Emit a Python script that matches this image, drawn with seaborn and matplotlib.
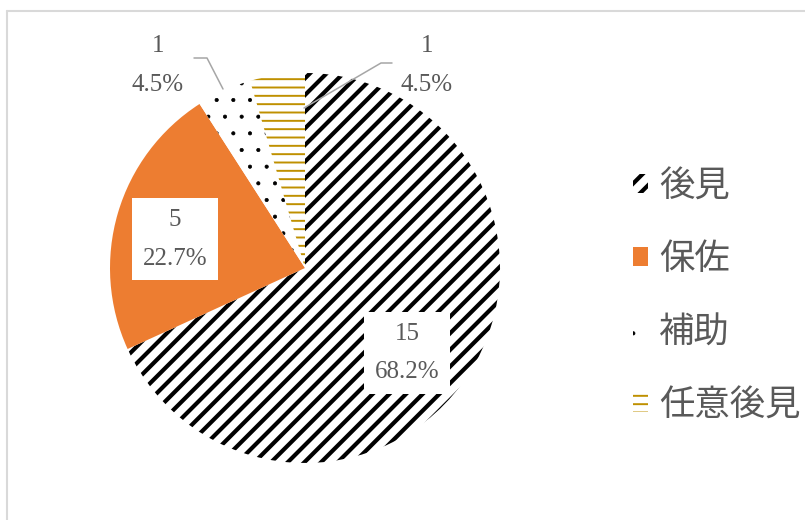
import matplotlib
matplotlib.use("Agg")
import matplotlib.pyplot as plt
from matplotlib.lines import Line2D
from matplotlib.font_manager import FontProperties
import seaborn as sns

# Guardianship type breakdown
categories = ["後見", "保佐", "補助", "任意後見"]
counts = [15, 5, 1, 1]

face_colors = ["white", "#ED7D31", "white", "white"]
hatch_colors = ["black", "#ED7D31", "black", "#BF9000"]
hatches = ["//", None, ".", "--"]
hatch_widths = [3.0, 1.0, 0.5, 1.4]

sns.set_theme(style="white")
plt.rcParams["font.family"] = ["Noto Sans CJK JP", "DejaVu Sans"]

W, H, DPI = 805, 520, 100
fig = plt.figure(figsize=(W / DPI, H / DPI), dpi=DPI)
ax = fig.add_axes([0, 0, 1, 1])


def with_hatch_width(artist, width):
    """Draw an artist with its own hatch line width."""
    if hasattr(artist, "_hatch_linewidth"):
        artist._hatch_linewidth = width
    orig = artist.draw

    def draw(renderer, *a, **k):
        with plt.rc_context({"hatch.linewidth": width}):
            return orig(renderer, *a, **k)

    artist.draw = draw


# pie centre at pixel (305, 268), radius 195 px
cx, cy, R = 305, 268, 195
wedges, _ = ax.pie(counts, startangle=90, counterclock=False, radius=1,
                   center=(0, 0), wedgeprops=dict(linewidth=0))
for w, fc, hc, ht, hw in zip(wedges, face_colors, hatch_colors, hatches, hatch_widths):
    w.set_facecolor(fc)
    w.set_edgecolor(hc)
    w.set_linewidth(0)
    if ht:
        w.set_hatch(ht)
        with_hatch_width(w, hw)

ax.set_xlim(-cx / R, (W - cx) / R)
ax.set_ylim((cy - H) / R, cy / R)
ax.set_aspect("auto")
ax.axis("off")


def d(px, py):
    return (px - cx) / R, (cy - py) / R


total = sum(counts)
label_px = [(407, 353), (175, 239), (158, 65), (427, 65)]
boxed = [True, True, False, False]
grey = "#595959"
for n, (px, py), b in zip(counts, label_px, boxed):
    txt = f"{n}\n{n / total * 100:.1f}%"
    x, y = d(px, py)
    kw = {}
    if b:
        kw["bbox"] = dict(boxstyle="square,pad=0.42", fc="white", ec="none")
    ax.text(x, y, txt, ha="center", va="center", color=grey,
            family=["Liberation Serif", "DejaVu Serif"], fontsize=18,
            linespacing=2.0, **kw)

# leader lines for the two small slices
leaders = [[(194, 58), (207, 58), (223, 89)],
           [(392, 63), (381, 63), (304, 108)]]
for pts in leaders:
    xs, ys = zip(*[d(*p) for p in pts])
    ax.plot(xs, ys, color="#A6A6A6", lw=1.1, clip_on=False)

leg = fig.legend(wedges, categories, loc="center left",
                 bbox_to_anchor=(633 / W, 1 - 296 / H),
                 frameon=False, borderpad=0, borderaxespad=0,
                 handlelength=0.43, handleheight=0.43, handletextpad=0.3,
                 labelspacing=1.05,
                 prop=FontProperties(family="Noto Sans CJK JP", size=25.5))
for t in leg.get_texts():
    t.set_color(grey)
for h, hw in zip(leg.legend_handles, hatch_widths):
    with_hatch_width(h, hw)

# chart-area border (top and left edges)
bc = "#D9D9D9"
fig.add_artist(Line2D([6.5 / W, 6.5 / W], [0, 1 - 10.5 / H], color=bc, lw=1.5,
                      transform=fig.transFigure))
fig.add_artist(Line2D([6.5 / W, 1], [1 - 10.5 / H, 1 - 10.5 / H], color=bc, lw=1.5,
                      transform=fig.transFigure))

fig.savefig("out.png", dpi=DPI)
